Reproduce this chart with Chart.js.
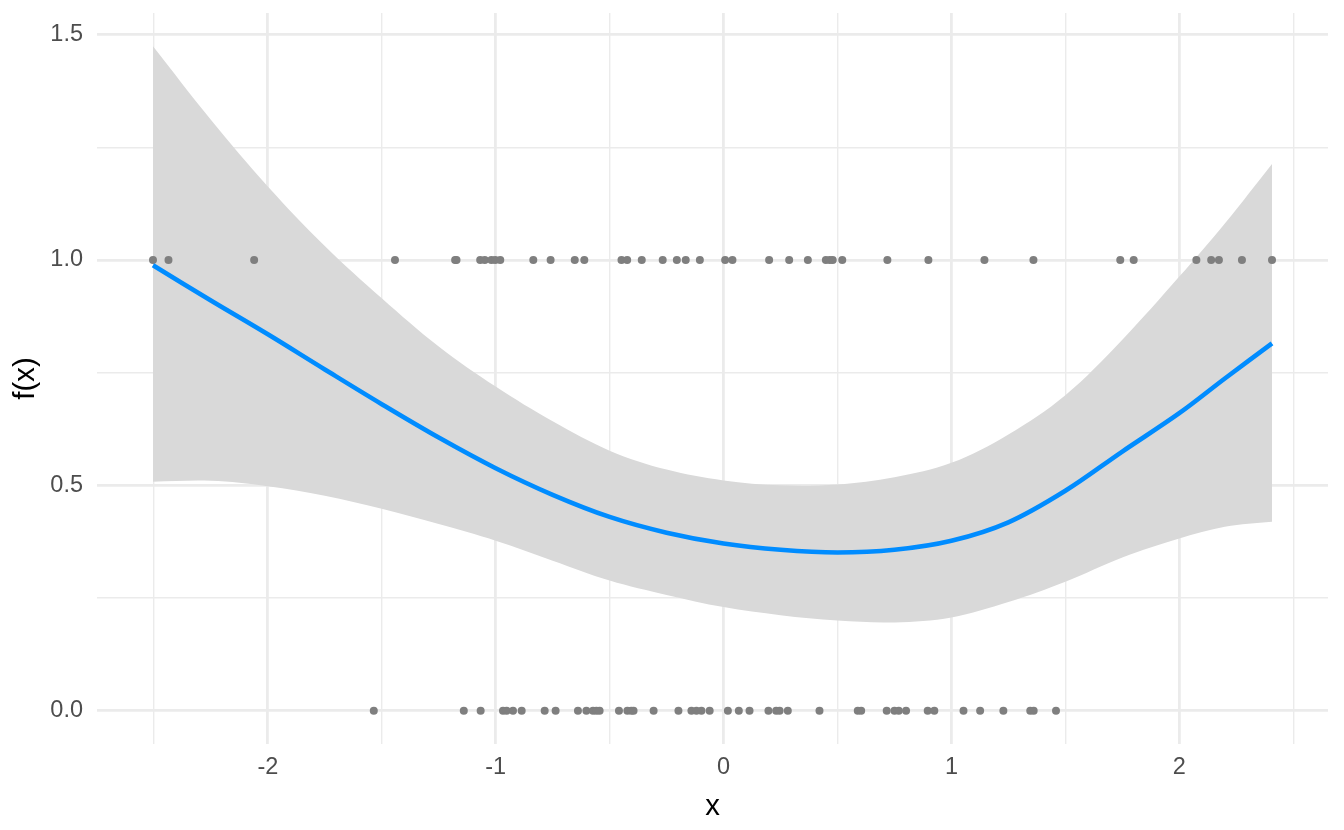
<!DOCTYPE html>
<html>
<head>
<meta charset="utf-8">
<script src="https://cdn.jsdelivr.net/npm/chart.js@4"></script>
<style>
  html, body { margin: 0; padding: 0; background: #ffffff; }
  #wrap { width: 1344px; height: 830px; position: relative; }
</style>
</head>
<body>
<div id="wrap"><canvas id="c"></canvas></div>
<script>
// ---- data ----
const curveX = [-2.504, -2.25, -2.0, -1.75, -1.5, -1.25, -1.0, -0.75, -0.5, -0.25, 0, 0.25, 0.5, 0.75, 1.0, 1.25, 1.5, 1.75, 2.0, 2.2, 2.407];
const fitY   = [0.988, 0.910, 0.835, 0.757, 0.680, 0.606, 0.538, 0.479, 0.430, 0.395, 0.371, 0.357, 0.351, 0.357, 0.377, 0.418, 0.488, 0.575, 0.660, 0.737, 0.815];
const upperY = [1.474, 1.311, 1.163, 1.031, 0.915, 0.808, 0.719, 0.642, 0.577, 0.535, 0.511, 0.500, 0.502, 0.518, 0.550, 0.613, 0.700, 0.823, 0.963, 1.081, 1.213];
const lowerY = [0.508, 0.510, 0.498, 0.477, 0.448, 0.414, 0.377, 0.333, 0.289, 0.257, 0.230, 0.212, 0.200, 0.196, 0.207, 0.241, 0.286, 0.340, 0.382, 0.408, 0.419];

const xOnes = [-2.504, -2.436, -2.060, -1.442, -1.178, -1.172, -1.068, -1.048, -1.019, -1.002, -0.980, -0.835, -0.759, -0.653, -0.611, -0.448, -0.423, -0.359, -0.267, -0.205, -0.166, -0.104, 0.007, 0.039, 0.200, 0.288, 0.370, 0.449, 0.466, 0.479, 0.521, 0.719, 0.899, 1.145, 1.360, 1.741, 1.800, 2.075, 2.140, 2.174, 2.275, 2.407];
const xZeros = [-1.535, -1.140, -1.066, -0.968, -0.952, -0.924, -0.886, -0.785, -0.737, -0.639, -0.602, -0.573, -0.558, -0.544, -0.459, -0.422, -0.405, -0.395, -0.307, -0.198, -0.141, -0.119, -0.097, -0.061, 0.019, 0.067, 0.114, 0.197, 0.231, 0.246, 0.282, 0.421, 0.589, 0.604, 0.716, 0.750, 0.769, 0.801, 0.896, 0.925, 1.053, 1.126, 1.228, 1.346, 1.361, 1.459];

const xTickValues = [-2.5, -2, -1.5, -1, -0.5, 0, 0.5, 1, 1.5, 2, 2.5];
const xTickLabels = ['', '-2', '', '-1', '', '0', '', '1', '', '2', ''];
const yTickValues = [0, 0.25, 0.5, 0.75, 1.0, 1.25, 1.5];
const yTickLabels = ['0.0', '', '0.5', '', '1.0', '', '1.5'];

const xLimits = [-2.7497, 2.6527];
const yLimits = [-0.0737, 1.5477];

const xTitle = 'x';
const yTitle = 'f(x)';

// ---- build chart ----
const pts = (xs, ys) => xs.map((x, i) => ({ x: x, y: ys[i] }));
const flat = (xs, v) => xs.map(x => ({ x: x, y: v }));

const FONT = '"Liberation Sans", Arial, sans-serif';
const GRID = '#ebebeb';
const TENSION = 0.35;

const isMajor = (v, step) => Math.abs(v / step - Math.round(v / step)) < 1e-6;

new Chart(document.getElementById('c'), {
  type: 'line',
  data: {
    datasets: [
      {
        label: 'upper', data: pts(curveX, upperY), order: 5,
        borderWidth: 0, pointRadius: 0, tension: TENSION,
        backgroundColor: '#d9d9d9', fill: { target: 1 }
      },
      {
        label: 'lower', data: pts(curveX, lowerY), order: 5,
        borderWidth: 0, pointRadius: 0, tension: TENSION,
        fill: false
      },
      {
        label: 'y1', data: flat(xOnes, 1), order: 3, showLine: false,
        pointRadius: 4, pointBorderWidth: 0, pointBackgroundColor: '#7f7f7f', pointBorderColor: '#7f7f7f'
      },
      {
        label: 'y0', data: flat(xZeros, 0), order: 3, showLine: false,
        pointRadius: 4, pointBorderWidth: 0, pointBackgroundColor: '#7f7f7f', pointBorderColor: '#7f7f7f'
      },
      {
        label: 'fit', data: pts(curveX, fitY), order: 1,
        borderColor: '#008cff', borderWidth: 4.6, pointRadius: 0,
        tension: TENSION, fill: false, borderCapStyle: 'butt'
      }
    ]
  },
  options: {
    responsive: true,
    maintainAspectRatio: false,
    animation: false,
    devicePixelRatio: 1,
    layout: { padding: { top: 13, right: 16, left: 0, bottom: 0 } },
    plugins: { legend: { display: false }, tooltip: { enabled: false } },
    scales: {
      x: {
        type: 'linear',
        min: xLimits[0], max: xLimits[1],
        border: { display: false },
        grid: {
          color: GRID,
          drawTicks: false,
          lineWidth: ctx => (ctx.tick && isMajor(ctx.tick.value, 1)) ? 2.8 : 1.4
        },
        afterBuildTicks: axis => { axis.ticks = xTickValues.map(v => ({ value: v })); },
        afterFit: axis => { axis.height = 86; axis.paddingLeft = 0; axis.paddingRight = 0; },
        ticks: {
          autoSkip: false, maxRotation: 0, padding: 9,
          color: '#4d4d4d',
          font: { family: FONT, size: 23.5 },
          callback: (v) => { const i = xTickValues.findIndex(t => Math.abs(t - v) < 1e-9); return i >= 0 ? xTickLabels[i] : ''; }
        },
        title: {
          display: true, text: xTitle, color: '#000000',
          font: { family: FONT, size: 29.3 },
          padding: { top: 0, bottom: 6 }
        }
      },
      y: {
        type: 'linear',
        min: yLimits[0], max: yLimits[1],
        border: { display: false },
        grid: {
          color: GRID,
          drawTicks: false,
          lineWidth: ctx => (ctx.tick && isMajor(ctx.tick.value, 0.5)) ? 2.8 : 1.4
        },
        afterBuildTicks: axis => { axis.ticks = yTickValues.map(v => ({ value: v })); },
        afterFit: axis => { axis.width = 97; axis.paddingTop = 0; axis.paddingBottom = 0; },
        ticks: {
          autoSkip: false, padding: 14,
          color: '#4d4d4d',
          font: { family: FONT, size: 23.5 },
          callback: (v) => { const i = yTickValues.findIndex(t => Math.abs(t - v) < 1e-9); return i >= 0 ? yTickLabels[i] : ''; }
        },
        title: {
          display: true, text: yTitle, color: '#000000',
          font: { family: FONT, size: 29.3 },
          padding: { top: 8.4, bottom: 0 }
        }
      }
    }
  }
});
</script>
</body>
</html>
